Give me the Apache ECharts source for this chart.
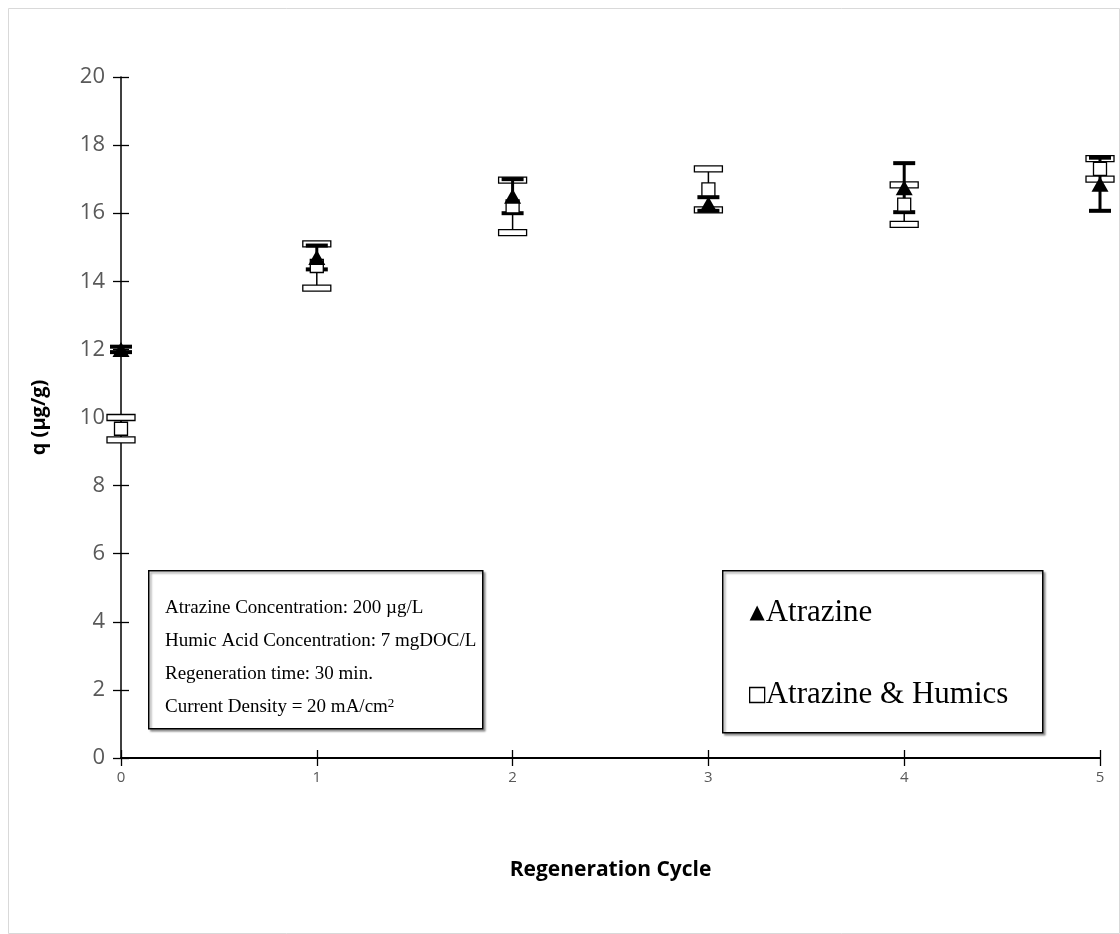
<!DOCTYPE html>
<html>
<head>
<meta charset="utf-8">
<style>
  html, body { margin: 0; padding: 0; background: #fff; }
  #chart { width: 1120px; height: 934px; }
</style>
<script src="https://cdn.jsdelivr.net/npm/echarts@6/dist/echarts.min.js"></script>
</head>
<body>
<div id="chart"></div>
<script>
// Regeneration cycles and adsorption capacity q (µg/g)
const cycles = [0, 1, 2, 3, 4, 5];
const atrazine = [12.0, 14.7, 16.5, 16.27, 16.75, 16.85];
const atrazineErr = [0.08, 0.35, 0.5, 0.2, 0.72, 0.78];
const humics = [9.67, 14.45, 16.2, 16.7, 16.25, 17.3];
const humicsErr = [0.33, 0.65, 0.77, 0.6, 0.58, 0.3];
const yTicks = [0, 2, 4, 6, 8, 10, 12, 14, 16, 18, 20];

const serif = '"Liberation Serif", "DejaVu Serif", serif';
const sans = '"Open Sans", "Liberation Sans", sans-serif';

function errData(mean, err) {
  return cycles.map((c, i) => [c, mean[i] - err[i], mean[i] + err[i]]);
}

// Error bar with cap style: solid thick caps or hollow bar caps
function errorBarRenderer(style) {
  return function (params, api) {
    const x = api.value(0);
    const lo = api.coord([x, api.value(1)]);
    const hi = api.coord([x, api.value(2)]);
    const hw = style.capWidth / 2;
    const children = [{
      type: 'line',
      shape: { x1: lo[0], y1: lo[1], x2: hi[0], y2: hi[1] },
      style: { stroke: '#000', lineWidth: style.stemWidth }
    }];
    [lo, hi].forEach(p => {
      if (style.hollow) {
        children.push({
          type: 'rect',
          shape: { x: p[0] - hw, y: p[1] - style.capHeight / 2, width: style.capWidth, height: style.capHeight },
          style: { fill: '#fff', stroke: '#000', lineWidth: 1.3 }
        });
      } else {
        children.push({
          type: 'line',
          shape: { x1: p[0] - hw, y1: p[1], x2: p[0] + hw, y2: p[1] },
          style: { stroke: '#000', lineWidth: style.capHeight }
        });
      }
    });
    return { type: 'group', children };
  };
}

const chart = echarts.init(document.getElementById('chart'), null, { renderer: 'canvas' });

const option = {
  backgroundColor: '#fff',
  animation: false,
  grid: { left: 121, right: 20, top: 77, bottom: 176 },
  xAxis: [{
    type: 'value', min: 0, max: 5, interval: 1,
    name: 'Regeneration Cycle', nameLocation: 'middle', nameGap: 102,
    nameTextStyle: { fontFamily: sans, fontWeight: 'bold', fontSize: 21, color: '#000' },
    axisLine: { lineStyle: { color: '#000', width: 2 } },
    axisTick: { show: true, length: 8, lineStyle: { color: '#000', width: 1.3 } },
    axisLabel: { fontFamily: sans, fontSize: 15, color: '#595959', margin: 12 },
    splitLine: { show: false }
  }, {
    type: 'value', min: 0, max: 5, interval: 1, position: 'bottom',
    axisLine: { show: false },
    axisTick: { show: true, inside: true, length: 8, lineStyle: { color: '#000', width: 1.3 } },
    axisLabel: { show: false }, splitLine: { show: false }
  }],
  yAxis: [{
    type: 'value', min: 0, max: 20, interval: 2,
    name: 'q (µg/g)', nameLocation: 'middle', nameGap: 72, nameRotate: 90,
    nameTextStyle: { fontFamily: sans, fontWeight: 'bold', fontSize: 20, color: '#000' },
    axisLine: { show: true, lineStyle: { color: '#000', width: 1.5 } },
    axisTick: { show: true, length: 8, lineStyle: { color: '#000', width: 1.3 } },
    axisLabel: {
      fontFamily: sans, fontSize: 22, color: '#595959', margin: 16,
      formatter: v => yTicks.includes(v) ? String(v) : ''
    },
    splitLine: { show: false }
  }, {
    type: 'value', min: 0, max: 20, interval: 2, position: 'left',
    axisLine: { show: false },
    axisTick: { show: true, inside: true, length: 8, lineStyle: { color: '#000', width: 1.3 } },
    axisLabel: { show: false }, splitLine: { show: false }
  }],
  legend: {
    orient: 'vertical', left: 744, top: 592, itemGap: 50,
    itemWidth: 15, itemHeight: 15,
    textStyle: { fontFamily: serif, fontSize: 31, lineHeight: 32, color: '#000', padding: [0, 0, 0, -4] },
    data: [
      { name: 'Atrazine', icon: 'triangle', itemStyle: { color: '#000' } },
      { name: 'Atrazine & Humics', icon: 'rect', itemStyle: { color: '#fff', borderColor: '#000', borderWidth: 1.3 } }
    ]
  },
  series: [
    {
      name: 'Humics error', type: 'custom', renderItem: errorBarRenderer({ capWidth: 28, capHeight: 6, stemWidth: 1.5, hollow: true }),
      data: errData(humics, humicsErr), z: 2, silent: true
    },
    {
      name: 'Atrazine error', type: 'custom', renderItem: errorBarRenderer({ capWidth: 22, capHeight: 4, stemWidth: 3, hollow: false }),
      data: errData(atrazine, atrazineErr), z: 3, silent: true
    },
    {
      name: 'Atrazine & Humics', type: 'scatter', symbol: 'rect', symbolSize: 13,
      itemStyle: { color: '#fff', borderColor: '#000', borderWidth: 1.3, opacity: 1 },
      data: cycles.map((c, i) => [c, humics[i]]), z: 4
    },
    {
      name: 'Atrazine', type: 'scatter', symbol: 'triangle', symbolSize: [17, 15],
      itemStyle: { color: '#000', opacity: 1 },
      data: cycles.map((c, i) => [c, atrazine[i]]), z: 5
    }
  ],
  graphic: [
    {
      type: 'rect', left: 8, top: 8, z: -1,
      shape: { width: 1111, height: 925 },
      style: { fill: '#fff', stroke: '#d9d9d9', lineWidth: 1 }
    },
    {
      type: 'rect', left: 148, top: 570, z: 10,
      shape: { width: 334, height: 158 },
      style: { fill: '#fff', stroke: '#000', lineWidth: 1.5, shadowBlur: 2, shadowOffsetX: 2, shadowOffsetY: 2, shadowColor: 'rgba(0,0,0,0.35)' }
    },
    {
      type: 'text', left: 165, top: 592, z: 11,
      style: {
        text: 'Atrazine Concentration: 200 µg/L\nHumic Acid Concentration: 7 mgDOC/L\nRegeneration time: 30 min.\nCurrent Density = 20 mA/cm{sup|2}',
        rich: { sup: { fontFamily: serif, fontSize: 13, lineHeight: 33, padding: [0, 0, 8, 0] } },
        fontFamily: serif, fontSize: 19, lineHeight: 33, fill: '#000'
      }
    },
    {
      type: 'rect', left: 722, top: 570, z: 1,
      shape: { width: 320, height: 162 },
      style: { fill: '#fff', stroke: '#000', lineWidth: 1.5, shadowBlur: 2, shadowOffsetX: 2, shadowOffsetY: 2, shadowColor: 'rgba(0,0,0,0.35)' }
    }
  ]
};

chart.setOption(option);
</script>
</body>
</html>
